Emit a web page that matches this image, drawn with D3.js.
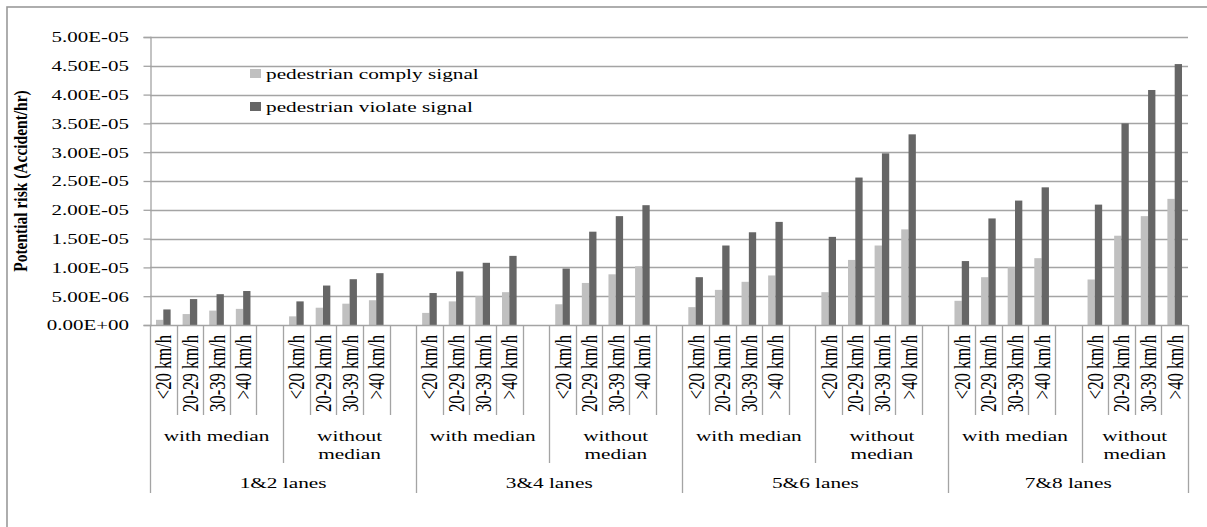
<!DOCTYPE html>
<html><head><meta charset="utf-8">
<script src="https://cdn.jsdelivr.net/npm/d3@7"></script>
<style>
html,body{margin:0;padding:0;background:#fff;}
svg{display:block;}
text{font-family:"Liberation Serif","Times New Roman",serif;fill:#000;}
</style></head>
<body>
<svg id="chart" width="1207" height="527"></svg>
<script>
// ---------- data ----------
const lanes = ["1&2 lanes", "3&4 lanes", "5&6 lanes", "7&8 lanes"];
const medians = ["with median", "without median"];
const speeds = ["<20 km/h", "20-29 km/h", "30-39 km/h", ">40 km/h"];
const seriesNames = ["pedestrian comply signal", "pedestrian violate signal"];
// order: lane -> median -> speed (values in units of 1e-6 accident/hr)
const complyValues = [
  0.9, 1.9, 2.5, 2.8,    1.5, 3.0, 3.7, 4.3,
  2.1, 4.1, 5.0, 5.7,    3.6, 7.3, 8.8, 10.2,
  3.1, 6.1, 7.5, 8.6,    5.7, 11.3, 13.8, 16.6,
  4.2, 8.3, 10.0, 11.6,  7.9, 15.5, 18.9, 21.9
];
const violateValues = [
  2.7, 4.5, 5.35, 5.9,   4.1, 6.85, 7.95, 9.0,
  5.55, 9.3, 10.8, 12.0, 9.8, 16.2, 18.9, 20.8,
  8.3, 13.8, 16.1, 17.9, 15.3, 25.6, 29.8, 33.1,
  11.1, 18.5, 21.6, 23.9, 20.9, 35.0, 40.8, 45.3
];
const yTickValues = [0, 5e-6, 1e-5, 1.5e-5, 2e-5, 2.5e-5, 3e-5, 3.5e-5, 4e-5, 4.5e-5, 5e-5];
const yTickLabels = ["0.00E+00","5.00E-06","1.00E-05","1.50E-05","2.00E-05","2.50E-05","3.00E-05","3.50E-05","4.00E-05","4.50E-05","5.00E-05"];
const yTitle = "Potential risk (Accident/hr)";

// ---------- layout ----------
const L = 150, R = 1188, T = 37, B = 325;
const SX = 1.42;           // horizontal text stretch of the original picture
const colors = ["#c0c0c0", "#666666"];
const gridColor = "#a4a4a4";

// build slots (39: each median group of 4 speeds + a blank spacer, except the last)
const slots = [];
const rows = [];
lanes.forEach((lane, li) => {
  medians.forEach((med, mi) => {
    speeds.forEach((sp, si) => {
      const idx = (li * medians.length + mi) * speeds.length + si;
      const key = `${li}|${mi}|${si}`;
      slots.push(key);
      rows.push({key, lane, li, med, mi, sp, si, values: [complyValues[idx] * 1e-6, violateValues[idx] * 1e-6]});
    });
    const last = li === lanes.length - 1 && mi === medians.length - 1;
    if (!last) slots.push(`${li}|${mi}|blank`);
  });
});

const svg = d3.select("#chart");
const x = d3.scaleBand().domain(slots).range([L, R]).paddingInner(0).paddingOuter(0);
const xs = d3.scaleBand().domain([0, 1]).range([0, x.bandwidth()]).paddingInner(0).paddingOuter(0.82);
const y = d3.scaleLinear().domain([0, 5e-5]).range([B, T]);

// outer frame
svg.append("rect").attr("x", 7).attr("y", 7).attr("width", 1215).attr("height", 540)
  .attr("fill", "none").attr("stroke", "#9a9a9a").attr("stroke-width", 1.6);

// gridlines
svg.append("g").selectAll("line").data(yTickValues.slice(1)).join("line")
  .attr("x1", L).attr("x2", R).attr("y1", d => Math.round(y(d)) + 0.5).attr("y2", d => Math.round(y(d)) + 0.5)
  .attr("stroke", gridColor).attr("stroke-width", 1.3);

// y axis
const yAxis = d3.axisLeft(y).tickValues(yTickValues).tickSize(7).tickFormat((d, i) => yTickLabels[i]);
const gy = svg.append("g").attr("transform", `translate(${L + 0.5},0)`).call(yAxis);
gy.select(".domain").attr("stroke", gridColor).attr("stroke-width", 1.3);
gy.selectAll(".tick line").attr("stroke", gridColor).attr("stroke-width", 1.3);
gy.selectAll(".tick text").remove();
svg.append("g").selectAll("text").data(yTickValues).join("text")
  .attr("transform", d => `translate(${L - 21},${y(d)}) scale(1.38,1)`)
  .attr("text-anchor", "end").attr("dy", "0.35em").attr("font-size", 15.2)
  .text((d, i) => yTickLabels[i]);

// bars
const bars = svg.append("g");
bars.selectAll("g").data(rows).join("g")
  .attr("transform", d => `translate(${x(d.key)},0)`)
  .selectAll("rect").data(d => d.values.map((v, i) => ({v, i}))).join("rect")
  .attr("x", d => xs(d.i)).attr("width", xs.bandwidth())
  .attr("y", d => y(d.v)).attr("height", d => B - y(d.v))
  .attr("fill", d => colors[d.i]);

// x axis baseline
svg.append("line").attr("x1", L).attr("x2", R).attr("y1", B + 0.5).attr("y2", B + 0.5)
  .attr("stroke", gridColor).attr("stroke-width", 1.3);

// category divider lines
const bounds = [];
slots.forEach((s, i) => {
  const parts = s.split("|");
  const next = slots[i + 1];
  const xb = x(s) + x.bandwidth();
  let level = 0;
  if (!next) level = 2;
  else {
    const np = next.split("|");
    if (np[0] !== parts[0]) level = 2;
    else if (np[1] !== parts[1]) level = 1;
  }
  bounds.push({xb, level});
});
bounds.unshift({xb: L, level: 2});
const lineBottom = [415, 463, 493];
svg.append("g").selectAll("line").data(bounds).join("line")
  .attr("x1", d => Math.round(d.xb) + 0.5).attr("x2", d => Math.round(d.xb) + 0.5)
  .attr("y1", B).attr("y2", d => lineBottom[d.level])
  .attr("stroke", gridColor).attr("stroke-width", 1.3);

// speed labels (rotated)
svg.append("g").selectAll("text").data(rows).join("text")
  .attr("transform", d => `translate(${x(d.key) + x.bandwidth() / 2},335) scale(${SX},1) rotate(-90)`)
  .attr("text-anchor", "end").attr("dy", "0.34em").attr("font-size", 16.6)
  .text(d => d.sp);

// median group labels
const medGroups = [];
lanes.forEach((lane, li) => medians.forEach((med, mi) => {
  const keys = slots.filter(s => s.startsWith(`${li}|${mi}|`));
  const x0 = x(keys[0]), x1 = x(keys[keys.length - 1]) + x.bandwidth();
  medGroups.push({med, cx: (x0 + x1) / 2});
}));
const mg = svg.append("g").selectAll("text").data(medGroups).join("text")
  .attr("transform", d => `translate(${d.cx},441) scale(${SX},1)`)
  .attr("text-anchor", "middle").attr("font-size", 15);
mg.each(function(d) {
  const words = d.med === "with median" ? [d.med] : d.med.split(" ");
  d3.select(this).selectAll("tspan").data(words).join("tspan")
    .attr("x", 0).attr("dy", (w, i) => i === 0 ? 0 : 18).text(w => w);
});

// lane labels
const laneGroups = lanes.map((lane, li) => {
  const keys = slots.filter(s => s.startsWith(`${li}|`));
  return {lane, cx: (x(keys[0]) + x(keys[keys.length - 1]) + x.bandwidth()) / 2};
});
svg.append("g").selectAll("text").data(laneGroups).join("text")
  .attr("transform", d => `translate(${d.cx},488) scale(${SX},1)`)
  .attr("text-anchor", "middle").attr("font-size", 15)
  .text(d => d.lane);

// y title
svg.append("text")
  .attr("transform", `translate(21,${(T + B) / 2}) scale(1.2,1) rotate(-90)`)
  .attr("text-anchor", "middle").attr("dy", "0.34em")
  .attr("font-size", 15.5).attr("font-weight", "bold")
  .text(yTitle);

// legend
const lg = svg.append("g").selectAll("g").data(seriesNames).join("g")
  .attr("transform", (d, i) => `translate(250,${73.5 + i * 33})`);
lg.append("rect").attr("x", 0).attr("y", -4.5).attr("width", 11).attr("height", 9)
  .attr("fill", (d, i) => colors[i]);
lg.append("text").attr("transform", `translate(16,5) scale(${SX},1)`)
  .attr("font-size", 15).text(d => d);
</script>
</body></html>
